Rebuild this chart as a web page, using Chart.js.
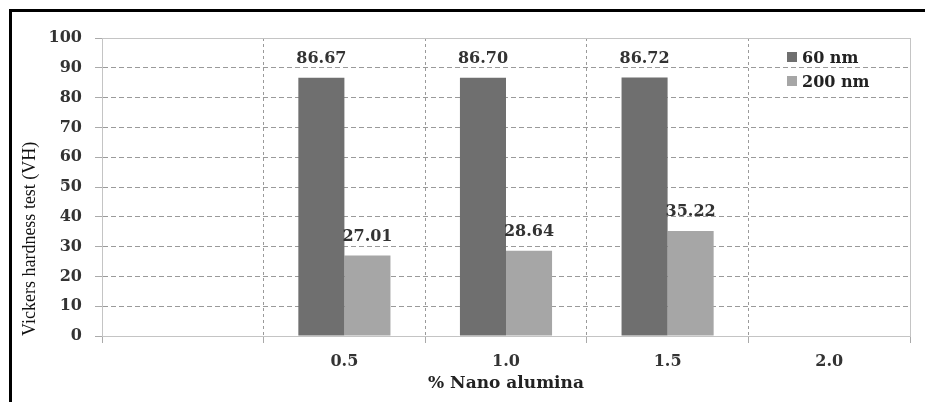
<!DOCTYPE html>
<html>
<head>
<meta charset="utf-8">
<script src="https://cdn.jsdelivr.net/npm/chart.js@4"></script>
<style>
  html, body { margin: 0; padding: 0; background: #fff; }
  #wrap { position: relative; width: 925px; height: 402px; }
  #frame { position: absolute; left: 9px; top: 9px; right: 0; bottom: 0;
           border-top: 3px solid #000; border-left: 3px solid #000; pointer-events: none; }
  #legend { position: absolute; left: 787px; top: 46px; font: bold 16px "DejaVu Serif", serif; color: #222; }
  #legend div { height: 24px; line-height: 24px; white-space: nowrap; }
  #legend span.box { display: inline-block; width: 10px; height: 10px; margin-right: 5px; vertical-align: 1px; }
</style>
</head>
<body>
<div id="wrap">
  <canvas id="hardChart" width="925" height="402"></canvas>
  <div id="frame"></div>
  <div id="legend"></div>
</div>
<script>
// categories (first one is an empty slot, as in the original)
const categories = ["", "0.5", "1.0", "1.5", "2.0"];
const seriesNames = ["60 nm", "200 nm"];
const values60 = [null, 86.67, 86.70, 86.72, null];
const values200 = [null, 27.01, 28.64, 35.22, null];
const yTicks = [0, 10, 20, 30, 40, 50, 60, 70, 80, 90, 100];
const colors = ["#6f6f6f", "#a6a6a6"];

// legend built from the series arrays
const legend = document.getElementById('legend');
seriesNames.forEach((name, i) => {
    const row = document.createElement('div');
    const box = document.createElement('span');
    box.className = 'box';
    box.style.background = colors[i];
    row.appendChild(box);
    row.appendChild(document.createTextNode(name));
    legend.appendChild(row);
});

// gray frame round the plot area
const plotFrame = {
    id: 'plotFrame',
    beforeDatasetsDraw(chart) {
        const { ctx, chartArea: a } = chart;
        ctx.save();
        ctx.strokeStyle = '#c4c4c4';
        ctx.lineWidth = 1;
        ctx.strokeRect(a.left + 0.5, a.top + 0.5, a.right - a.left, a.bottom - a.top);
        ctx.restore();
    }
};

// value labels above the bars
const valueLabels = {
    id: 'valueLabels',
    afterDatasetsDraw(chart) {
        const ctx = chart.ctx;
        ctx.save();
        ctx.font = 'bold 16px "DejaVu Serif", serif';
        ctx.fillStyle = '#333';
        ctx.textAlign = 'center';
        ctx.textBaseline = 'middle';
        chart.data.datasets.forEach((ds, i) => {
            const meta = chart.getDatasetMeta(i);
            meta.data.forEach((bar, j) => {
                const v = ds.data[j];
                if (v === null) return;
                ctx.fillText(v.toFixed(2), bar.x, bar.y - 19);
            });
        });
        ctx.restore();
    }
};

const ctx = document.getElementById('hardChart').getContext('2d');
new Chart(ctx, {
    type: 'bar',
    data: {
        labels: categories,
        datasets: [
            { label: seriesNames[0], data: values60, backgroundColor: colors[0], borderWidth: 0 },
            { label: seriesNames[1], data: values200, backgroundColor: colors[1], borderWidth: 0 }
        ]
    },
    options: {
        responsive: false,
        animation: false,
        categoryPercentage: 0.57,
        barPercentage: 1.0,
        layout: { padding: { left: 0, top: 38, right: 15, bottom: 0 } },
        plugins: {
            legend: { display: false },
            tooltip: { enabled: false }
        },
        scales: {
            x: {
                offset: true,
                grid: { offset: true, color: '#9a9a9a', tickColor: '#aaa', tickLength: 7, tickBorderDash: [] },
                border: { color: '#bdbdbd', dash: [3, 3] },
                ticks: { color: '#333', padding: 9, font: { family: 'DejaVu Serif', size: 16, weight: 'bold' } },
                title: {
                    display: true, text: '% Nano alumina', color: '#222',
                    font: { family: 'DejaVu Serif', size: 17, weight: 'bold' },
                    padding: { top: 0, bottom: 8 }
                },
                afterFit(scale) { scale.height = 66; }
            },
            y: {
                min: 0, max: 100,
                afterBuildTicks(scale) { scale.ticks = yTicks.map(v => ({ value: v })); },
                grid: { color: '#9a9a9a', tickColor: '#aaa', tickLength: 7, tickBorderDash: [] },
                border: { color: '#bdbdbd', dash: [5, 3] },
                ticks: { color: '#333', padding: 13, font: { family: 'DejaVu Serif', size: 16, weight: 'bold' } },
                title: {
                    display: true, text: 'Vickers hardness test (VH)', color: '#111', align: 'start',
                    font: { family: 'Liberation Serif', size: 18 },
                    padding: { top: 19, bottom: 0 }
                },
                afterFit(scale) { scale.width = 102; }
            }
        }
    },
    plugins: [plotFrame, valueLabels]
});
</script>
</body>
</html>
